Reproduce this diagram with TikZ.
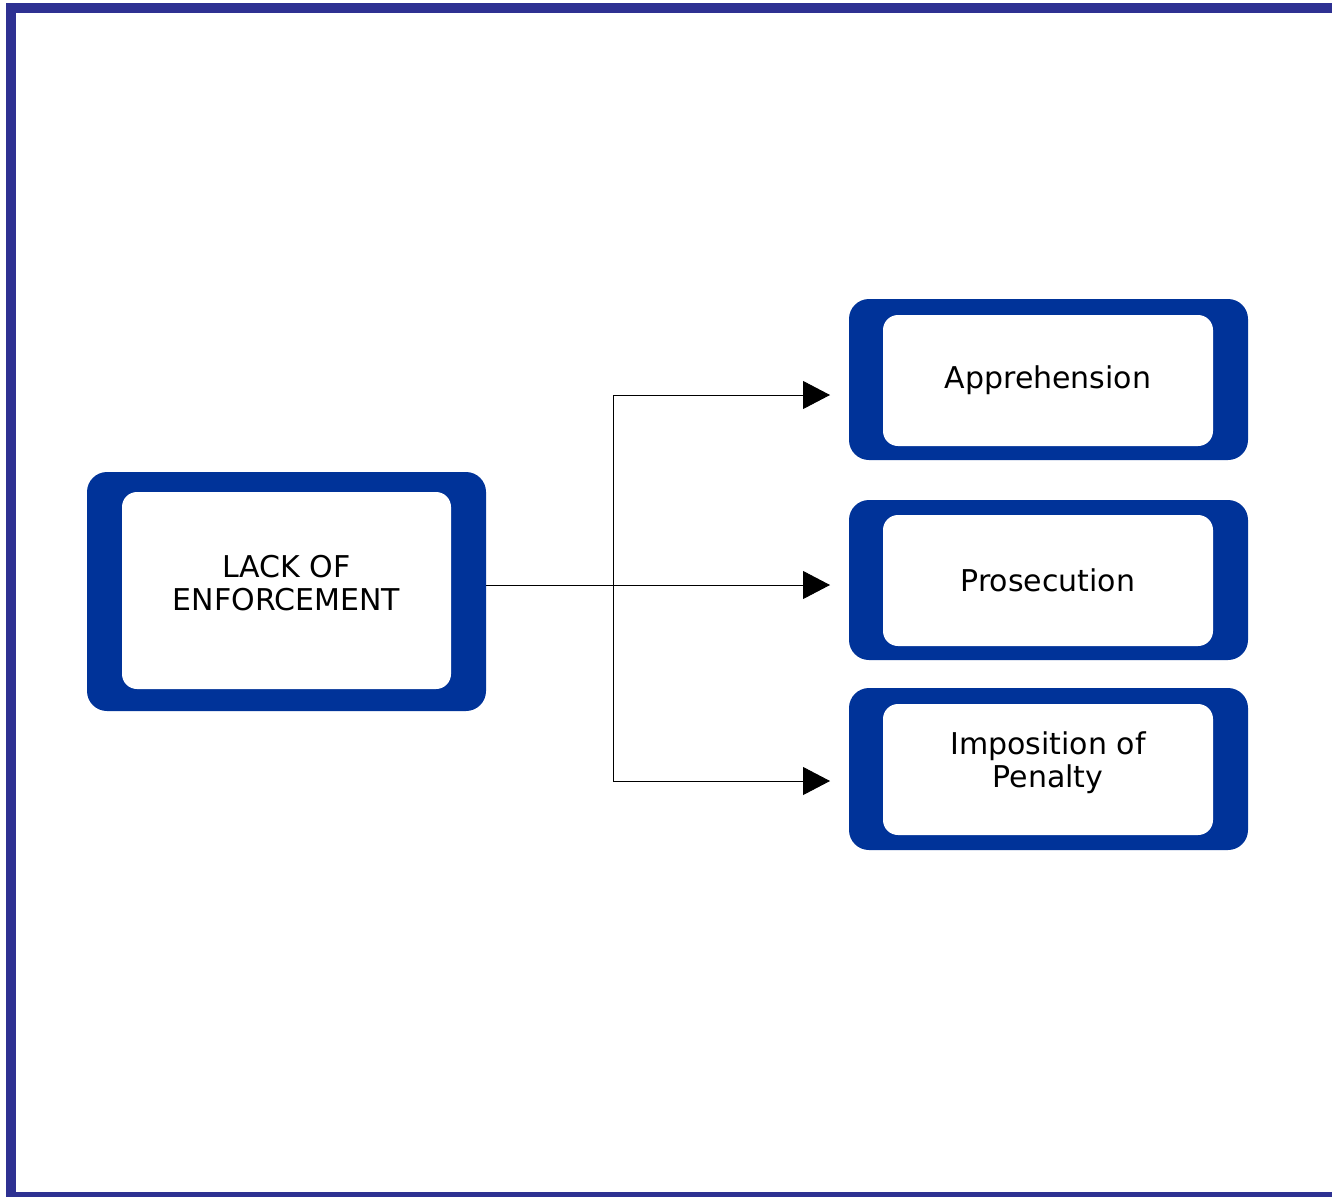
\documentclass[tikz,border=0pt]{standalone}
\usepackage{fontspec}
\setmainfont{DejaVu Sans}
\usetikzlibrary{arrows.meta,calc}
\definecolor{framecol}{RGB}{46,49,146}
\definecolor{boxblue}{RGB}{0,51,153}
\tikzset{
  outerbox/.style={fill=boxblue, draw=none, rounded corners=20pt, inner sep=0pt},
  innerbox/.style={fill=white, draw=none, rounded corners=15pt, inner sep=0pt, align=center,
    font=\fontsize{30pt}{33pt}\selectfont},
  conn/.style={draw=black, line width=0.9pt},
  arr/.style={conn, -{Triangle[length=27pt,width=28pt]}}
}
\begin{document}
\begin{tikzpicture}[x=1pt,y=-1pt]
\useasboundingbox (0,0) rectangle (1332,1197);
% frame
\fill[framecol] (6,3) rectangle (1332,13);
\fill[framecol] (6,3) rectangle (16,1197);
\fill[framecol] (6,1192) rectangle (1332,1197);
% left box
\node[outerbox, minimum width=399pt, minimum height=239pt] (lack) at (286.5,591.5) {};
\node[innerbox, minimum width=329pt, minimum height=197pt, text depth=16pt] (lackin) at (286.5,590.5) {LACK OF\\ENFORCEMENT};
% right boxes
\node[outerbox, minimum width=399pt, minimum height=161pt] (appr) at (1048.5,379.5) {};
\node[innerbox, minimum width=330pt, minimum height=131pt] (apprin) at (1048,380.5) {Apprehension};
\node[outerbox, minimum width=399pt, minimum height=160pt] (pros) at (1048.5,580) {};
\node[innerbox, minimum width=330pt, minimum height=131pt] (prosin) at (1048,580.5) {Prosecution};
\node[outerbox, minimum width=399pt, minimum height=162pt] (impo) at (1048.5,769) {};
\node[innerbox, minimum width=330pt, minimum height=131pt, text depth=20pt] (impoin) at (1048,769.5) {Imposition of\\Penalty};
% connectors
\coordinate (j1) at (613,395);
\coordinate (j3) at (613,781);
\coordinate (t1) at (830,395);
\coordinate (t2) at (830,585);
\coordinate (t3) at (830,781);
\draw[arr] (lack.east |- t2) -- (t2);
\draw[conn] (j1) -- (j3);
\draw[arr] (j1) -- (t1);
\draw[arr] (j3) -- (t3);
\end{tikzpicture}
\end{document}
